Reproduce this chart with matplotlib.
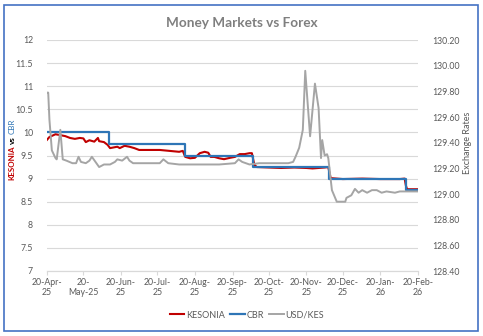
import matplotlib
matplotlib.use('Agg')
import matplotlib.pyplot as plt
from matplotlib.patches import Rectangle
import pandas as pd

plt.rcParams['font.family'] = ['Lato', 'DejaVu Sans']

# CBR policy rate (step changes)
cbr_dates = ['2025-04-20', '2025-06-10', '2025-08-12', '2025-10-07',
             '2025-12-09', '2026-02-10', '2026-02-20']
cbr_vals = [10.0, 9.75, 9.5, 9.25, 9.0, 8.75, 8.75]

# KESONIA overnight rate
kes_dates = ['2025-04-20', '2025-04-22', '2025-04-27', '2025-05-01', '2025-05-05',
             '2025-05-09', '2025-05-13', '2025-05-17', '2025-05-20', '2025-05-22',
             '2025-05-25', '2025-05-29', '2025-06-01', '2025-06-02', '2025-06-06',
             '2025-06-09', '2025-06-11', '2025-06-15', '2025-06-17', '2025-06-19',
             '2025-06-23', '2025-06-27', '2025-07-01', '2025-07-05', '2025-07-14',
             '2025-07-22', '2025-07-30', '2025-08-07', '2025-08-10', '2025-08-12',
             '2025-08-16', '2025-08-20', '2025-08-24', '2025-08-28', '2025-08-31',
             '2025-09-02', '2025-09-05', '2025-09-09', '2025-09-13', '2025-09-18',
             '2025-09-22', '2025-09-26', '2025-09-30', '2025-10-04', '2025-10-06',
             '2025-10-08', '2025-10-10', '2025-10-20', '2025-10-30', '2025-11-10',
             '2025-11-20', '2025-11-25', '2025-12-05', '2025-12-08', '2025-12-09',
             '2025-12-10', '2025-12-20', '2026-01-05', '2026-01-20', '2026-02-05',
             '2026-02-09', '2026-02-10', '2026-02-11', '2026-02-20']
kes_vals = [9.84, 9.90, 9.96, 9.94, 9.92,
            9.88, 9.86, 9.88, 9.87, 9.79,
            9.83, 9.80, 9.88, 9.81, 9.79,
            9.73, 9.66, 9.68, 9.69, 9.66,
            9.71, 9.69, 9.66, 9.62, 9.62,
            9.62, 9.60, 9.58, 9.60, 9.47,
            9.44, 9.45, 9.55, 9.58, 9.56,
            9.47, 9.47, 9.44, 9.42, 9.45,
            9.47, 9.53, 9.53, 9.55, 9.55,
            9.30, 9.25, 9.24, 9.23, 9.24,
            9.23, 9.22, 9.24, 9.25, 9.12,
            9.01, 8.99, 9.00, 8.99, 8.99,
            9.00, 8.85, 8.77, 8.77]

# USD/KES exchange rate
fx_dates = ['2025-04-20', '2025-04-21', '2025-04-22', '2025-04-24', '2025-04-27',
            '2025-04-28', '2025-05-01', '2025-05-03', '2025-05-06', '2025-05-11',
            '2025-05-14', '2025-05-16', '2025-05-18', '2025-05-22', '2025-05-25',
            '2025-05-27', '2025-05-30', '2025-06-02', '2025-06-06', '2025-06-11',
            '2025-06-15', '2025-06-17', '2025-06-21', '2025-06-25', '2025-06-27',
            '2025-06-30', '2025-07-10', '2025-07-22', '2025-07-25', '2025-07-29',
            '2025-08-07', '2025-08-24', '2025-09-09', '2025-09-22', '2025-09-25',
            '2025-09-28', '2025-10-04', '2025-10-12', '2025-10-20', '2025-10-29',
            '2025-11-05', '2025-11-09', '2025-11-11', '2025-11-14', '2025-11-17',
            '2025-11-19', '2025-11-23', '2025-11-27', '2025-11-30', '2025-12-02',
            '2025-12-03', '2025-12-05', '2025-12-07', '2025-12-08', '2025-12-11',
            '2025-12-15', '2025-12-22', '2025-12-23', '2025-12-27', '2025-12-30',
            '2026-01-02', '2026-01-05', '2026-01-09', '2026-01-13', '2026-01-17',
            '2026-01-21', '2026-01-25', '2026-02-01', '2026-02-05', '2026-02-12',
            '2026-02-20']
fx_vals = [129.79, 129.79, 129.58, 129.34, 129.28,
           129.27, 129.50, 129.27, 129.26, 129.24,
           129.24, 129.29, 129.25, 129.24, 129.26,
           129.29, 129.25, 129.21, 129.23, 129.23,
           129.25, 129.27, 129.26, 129.29, 129.26,
           129.24, 129.24, 129.24, 129.27, 129.24,
           129.23, 129.23, 129.23, 129.24, 129.27,
           129.25, 129.23, 129.24, 129.24, 129.24,
           129.24, 129.25, 129.29, 129.36, 129.50,
           129.96, 129.45, 129.86, 129.67, 129.28,
           129.42, 129.30, 129.31, 129.28, 129.03,
           128.94, 128.94, 128.97, 128.99, 129.04,
           129.01, 129.03, 129.01, 129.03, 129.03,
           129.01, 129.02, 129.01, 129.02, 129.02,
           129.02]

tick_dates = ['2025-04-20', '2025-05-20', '2025-06-20', '2025-07-20', '2025-08-20',
              '2025-09-20', '2025-10-20', '2025-11-20', '2025-12-20', '2026-01-20',
              '2026-02-20']
tick_labels = ['20-Apr-\n25', '20-\nMay-25', '20-Jun-\n25', '20-Jul-\n25', '20-Aug-\n25',
               '20-Sep-\n25', '20-Oct-\n25', '20-Nov-\n25', '20-Dec-\n25', '20-Jan-\n26',
               '20-Feb-\n26']

RED = '#C00000'
BLUE = '#2E75B6'
GREY = '#A5A5A5'
TXT = '#595959'

fig = plt.figure(figsize=(4.83, 3.36), dpi=100)
ax = fig.add_axes([47 / 483, 1 - 271 / 336, 371 / 483, 231 / 336])
ax2 = ax.twinx()

l1, = ax.plot(pd.to_datetime(kes_dates), kes_vals, color=RED, lw=1.5, label='KESONIA', zorder=3)
l2, = ax.plot(pd.to_datetime(cbr_dates), cbr_vals, color=BLUE, lw=1.6,
              drawstyle='steps-post', label='CBR', zorder=4)
l3, = ax2.plot(pd.to_datetime(fx_dates), fx_vals, color=GREY, lw=1.4, label='USD/KES')

ax.set_xlim(pd.Timestamp('2025-04-20'), pd.Timestamp('2026-02-20'))
ax.set_ylim(7, 12)
ax.set_yticks([7, 7.5, 8, 8.5, 9, 9.5, 10, 10.5, 11, 11.5, 12])
ax.set_yticklabels(['7', '7.5', '8', '8.5', '9', '9.5', '10', '10.5', '11', '11.5', '12'])
ax2.set_ylim(128.4, 130.2)
ax2.set_yticks([128.4 + 0.2 * i for i in range(10)])
ax2.set_yticklabels(['%.2f' % (128.4 + 0.2 * i) for i in range(10)])

ax.set_xticks(pd.to_datetime(tick_dates))
ax.set_xticklabels(tick_labels)

ax.grid(axis='y', color='#D9D9D9', lw=0.8)
ax.set_axisbelow(True)
for a in (ax, ax2):
    for s in ('top', 'left', 'right'):
        a.spines[s].set_visible(False)
    a.spines['bottom'].set_color('#D9D9D9')
ax.tick_params(axis='x', colors='#D9D9D9', length=3, width=0.8, labelcolor=TXT,
               labelsize=6.3, pad=2)
ax.tick_params(axis='y', length=0, labelcolor=TXT, labelsize=6.3, pad=10)
ax2.tick_params(axis='y', length=0, labelcolor=TXT, labelsize=6.3, pad=10)

fig.text(0.5, 1 - 23 / 336, 'Money Markets vs Forex', ha='center', va='center',
         fontsize=9.8, fontweight='bold', color='#7F7F7F')

# two-colour left axis title, stacked bottom to top
renderer = fig.canvas.get_renderer()
y = 1 - 180 / 336
for word, weight, col in [('KESONIA', 'bold', RED), ('vs', 'bold', 'black'),
                          ('CBR', 'normal', BLUE)]:
    t = fig.text(12 / 483, y, word, rotation=90, ha='center', va='bottom',
                 fontsize=5.8, fontweight=weight, color=col)
    bb = t.get_window_extent(renderer).transformed(fig.transFigure.inverted())
    y = bb.y1 + 2 / 336

fig.text(468 / 483, 1 - 143 / 336, 'Exchange Rates', rotation=90, ha='center', va='center',
         fontsize=6.5, color=TXT)

fig.legend([l1, l2, l3], ['KESONIA', 'CBR', 'USD/KES'], loc='center',
           bbox_to_anchor=(247 / 483, 1 - 315 / 336), ncol=3, frameon=False,
           fontsize=6.5, handlelength=1.6, handletextpad=0.2, columnspacing=0.6,
           labelcolor=TXT)

fig.patches.append(Rectangle((4 / 483, 5 / 336), 474 / 483, 326 / 336,
                             transform=fig.transFigure, fill=False,
                             edgecolor='#4472C4', lw=1.2))

fig.savefig('out.png', dpi=100, facecolor='white')
